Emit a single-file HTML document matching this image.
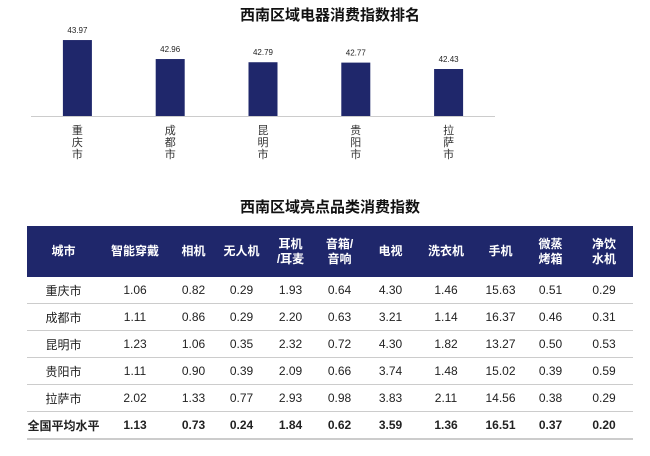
<!DOCTYPE html>
<html><head><meta charset="utf-8"><style>
body{margin:0;width:650px;height:456px;background:#fff;font-family:"Liberation Sans","Noto Sans CJK SC",sans-serif;position:relative;overflow:hidden}
.t{position:absolute;left:0;width:660px;text-align:center;font-weight:bold;font-size:15px;color:#111}
table{position:absolute;left:27px;top:226px;width:606px;border-collapse:collapse;font-size:12px;color:#222;table-layout:fixed}
th{background:#1f276b;color:#fff;font-weight:bold;font-size:12px;height:51px;line-height:15px;padding:0}
td{height:26px;text-align:center;border-bottom:1px solid #ccc;padding:0;white-space:nowrap}
tr.avg td{font-weight:bold;font-size:12px;border-bottom:2px solid #ccc}
</style></head><body>
<div class="t" style="top:4px">西南区域电器消费指数排名</div>
<svg id="c" width="650" height="190" style="position:absolute;left:0;top:0"></svg>
<div class="t" style="top:196px">西南区域亮点品类消费指数</div>
<table>
<colgroup><col style="width:73px"><col style="width:70px"><col style="width:47px"><col style="width:49px"><col style="width:49px"><col style="width:49px"><col style="width:53px"><col style="width:58px"><col style="width:51px"><col style="width:49px"><col style="width:58px"></colgroup>
<tr><th>城市</th><th>智能穿戴</th><th>相机</th><th>无人机</th><th>耳机<br>/耳麦</th><th>音箱/<br>音响</th><th>电视</th><th>洗衣机</th><th>手机</th><th>微蒸<br>烤箱</th><th>净饮<br>水机</th></tr>
<tr><td>重庆市</td><td>1.06</td><td>0.82</td><td>0.29</td><td>1.93</td><td>0.64</td><td>4.30</td><td>1.46</td><td>15.63</td><td>0.51</td><td>0.29</td></tr>
<tr><td>成都市</td><td>1.11</td><td>0.86</td><td>0.29</td><td>2.20</td><td>0.63</td><td>3.21</td><td>1.14</td><td>16.37</td><td>0.46</td><td>0.31</td></tr>
<tr><td>昆明市</td><td>1.23</td><td>1.06</td><td>0.35</td><td>2.32</td><td>0.72</td><td>4.30</td><td>1.82</td><td>13.27</td><td>0.50</td><td>0.53</td></tr>
<tr><td>贵阳市</td><td>1.11</td><td>0.90</td><td>0.39</td><td>2.09</td><td>0.66</td><td>3.74</td><td>1.48</td><td>15.02</td><td>0.39</td><td>0.59</td></tr>
<tr><td>拉萨市</td><td>2.02</td><td>1.33</td><td>0.77</td><td>2.93</td><td>0.98</td><td>3.83</td><td>2.11</td><td>14.56</td><td>0.38</td><td>0.29</td></tr>
<tr class="avg"><td>全国平均水平</td><td>1.13</td><td>0.73</td><td>0.24</td><td>1.84</td><td>0.62</td><td>3.59</td><td>1.36</td><td>16.51</td><td>0.37</td><td>0.20</td></tr>
</table>
<script>
const cities=["重庆市","成都市","昆明市","贵阳市","拉萨市"];
const values=[43.97,42.96,42.79,42.77,42.43];
const svg=document.getElementById('c');const NS="http://www.w3.org/2000/svg";
const base=116,minV=39.93,ppu=18.8,x0=31,x1=495,bw=29;
const y=v=>base-(v-minV)*ppu;
const xc=i=>x0+(x1-x0)/cities.length*(i+0.5);
function mk(t,a){const e=document.createElementNS(NS,t);for(const k in a)e.setAttribute(k,a[k]);svg.appendChild(e);return e;}
cities.forEach((c,i)=>{
const r=mk('rect',{x:xc(i)-bw/2,y:y(values[i]),width:bw,height:base-y(values[i]),fill:'#1f276b'});


const t=mk('text',{x:xc(i),y:y(values[i])-7,'text-anchor':'middle','font-size':'8',fill:'#222'});
t.textContent=values[i].toFixed(2);


[...c].forEach((ch,j)=>{const l=mk('text',{x:xc(i),y:134+j*12,'text-anchor':'middle','font-size':'11',fill:'#333'});l.textContent=ch;

});
});
const ax=mk('line',{x1:x0,x2:x1,y1:base+0.5,y2:base+0.5,stroke:'#ccc','stroke-width':1});


</script>
</body></html>
